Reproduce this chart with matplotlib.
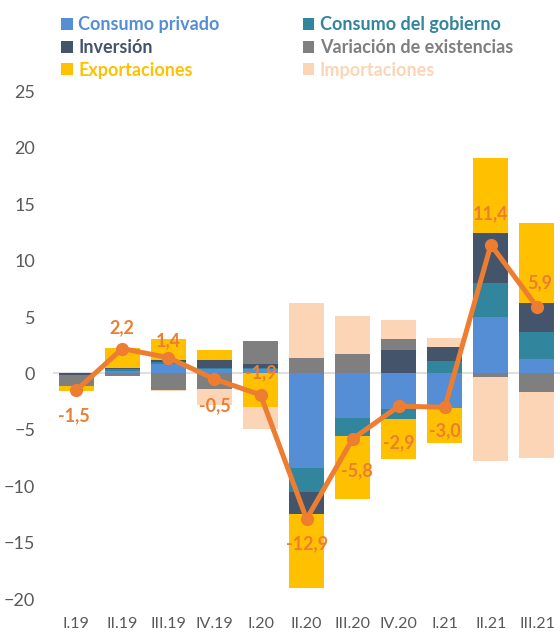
import numpy as np
import matplotlib
matplotlib.use('Agg')
import matplotlib.pyplot as plt
from matplotlib.patches import Patch

plt.rcParams['font.family'] = ['Lato', 'DejaVu Sans']

trimestres = ['I.19', 'II.19', 'III.19', 'IV.19', 'I.20', 'II.20', 'III.20', 'IV.20', 'I.21', 'II.21', 'III.21']

consumo_privado = [0.05, 0.25, 0.8, 0.4, 0.35, -8.4, -3.96, -3.13, -3.04, 5.01, 1.27]
consumo_gobierno = [0.0, 0.15, 0.18, 0.1, 0.1, -2.1, -1.57, -0.95, 1.09, 2.96, 2.39]
inversion = [-0.15, 0.1, 0.2, 0.65, 0.4, -2.0, 0.0, 2.07, 1.24, 4.48, 2.6]
variacion_existencias = [-1.0, -0.2, -1.48, -1.42, 2.0, 1.38, 1.68, 1.0, 0.0, -0.3, -1.63]
exportaciones = [-0.4, 1.75, 1.85, 0.95, -3.0, -6.5, -5.6, -3.54, -3.1, 6.6, 7.09]
importaciones = [0.0, 0.0, -0.1, -1.4, -1.9, 4.85, 3.4, 1.7, 0.82, -7.44, -5.9]
pib = [-1.5, 2.2, 1.4, -0.5, -1.9, -12.9, -5.8, -2.9, -3.0, 11.4, 5.9]
etiquetas = ['-1,5', '2,2', '1,4', '-0,5', '-1,9', '-12,9', '-5,8', '-2,9', '-3,0', '11,4', '5,9']

series = [
    ('Consumo privado', consumo_privado, '#558ED5'),
    ('Consumo del gobierno', consumo_gobierno, '#31859C'),
    ('Inversión', inversion, '#44546A'),
    ('Variación de existencias', variacion_existencias, '#7F7F7F'),
    ('Exportaciones', exportaciones, '#FFC000'),
    ('Importaciones', importaciones, '#FBD5B5'),
]

# offsets (pt) de las etiquetas del PIB
offsets = [(-2, -18), (0, 15), (0, 12), (0, -19), (0, 16), (0, -18), (3, -23), (0, -26), (0, -17), (0, 22), (2, 17)]

fig = plt.figure(figsize=(5.6, 6.34), dpi=100)
ax = fig.add_axes([0.095, 0.055, 0.905, 0.801])

x = np.arange(len(trimestres))
pos_base = np.zeros(len(x))
neg_base = np.zeros(len(x))
for nombre, vals, color in series:
    v = np.array(vals)
    base = np.where(v >= 0, pos_base, neg_base)
    ax.bar(x, v, bottom=base, width=0.76, color=color, zorder=2)
    pos_base = pos_base + np.where(v >= 0, v, 0)
    neg_base = neg_base + np.where(v < 0, v, 0)

ax.axhline(0, color='#D9D9D9', linewidth=1.2, zorder=1)

ax.plot(x, pib, color='#ED7D31', linewidth=3.6, marker='o', markersize=8.5, zorder=4)
for xi, yi, txt, off in zip(x, pib, etiquetas, offsets):
    ax.annotate(txt, (xi, yi), xytext=off, textcoords='offset points',
                ha='center', va='center', color='#ED7D31', fontsize=13,
                fontweight='bold', zorder=5)

ax.set_xlim(-0.5, len(x) - 0.5)
ax.set_ylim(-20, 25)
ax.set_yticks(np.arange(-20, 26, 5))
ax.set_xticks(x)
ax.set_xticklabels(trimestres)
ax.tick_params(axis='y', length=0, pad=13, labelsize=13, labelcolor='#595959')
ax.tick_params(axis='x', length=0, pad=13, labelsize=11.5, labelcolor='#595959')
for s in ax.spines.values():
    s.set_visible(False)

orden = [0, 2, 4, 1, 3, 5]
handles = [Patch(facecolor=series[i][2]) for i in orden]
labels = [series[i][0] for i in orden]
leg = fig.legend(handles, labels, ncol=2, loc='upper left', bbox_to_anchor=(0.08, 1.0),
                 frameon=False, prop={'weight': 'bold', 'size': 13},
                 labelcolor=[series[i][2] for i in orden],
                 handlelength=0.65, handleheight=0.65, handletextpad=0.3,
                 columnspacing=4.6, labelspacing=0.32)

fig.savefig('out.png', dpi=100)
